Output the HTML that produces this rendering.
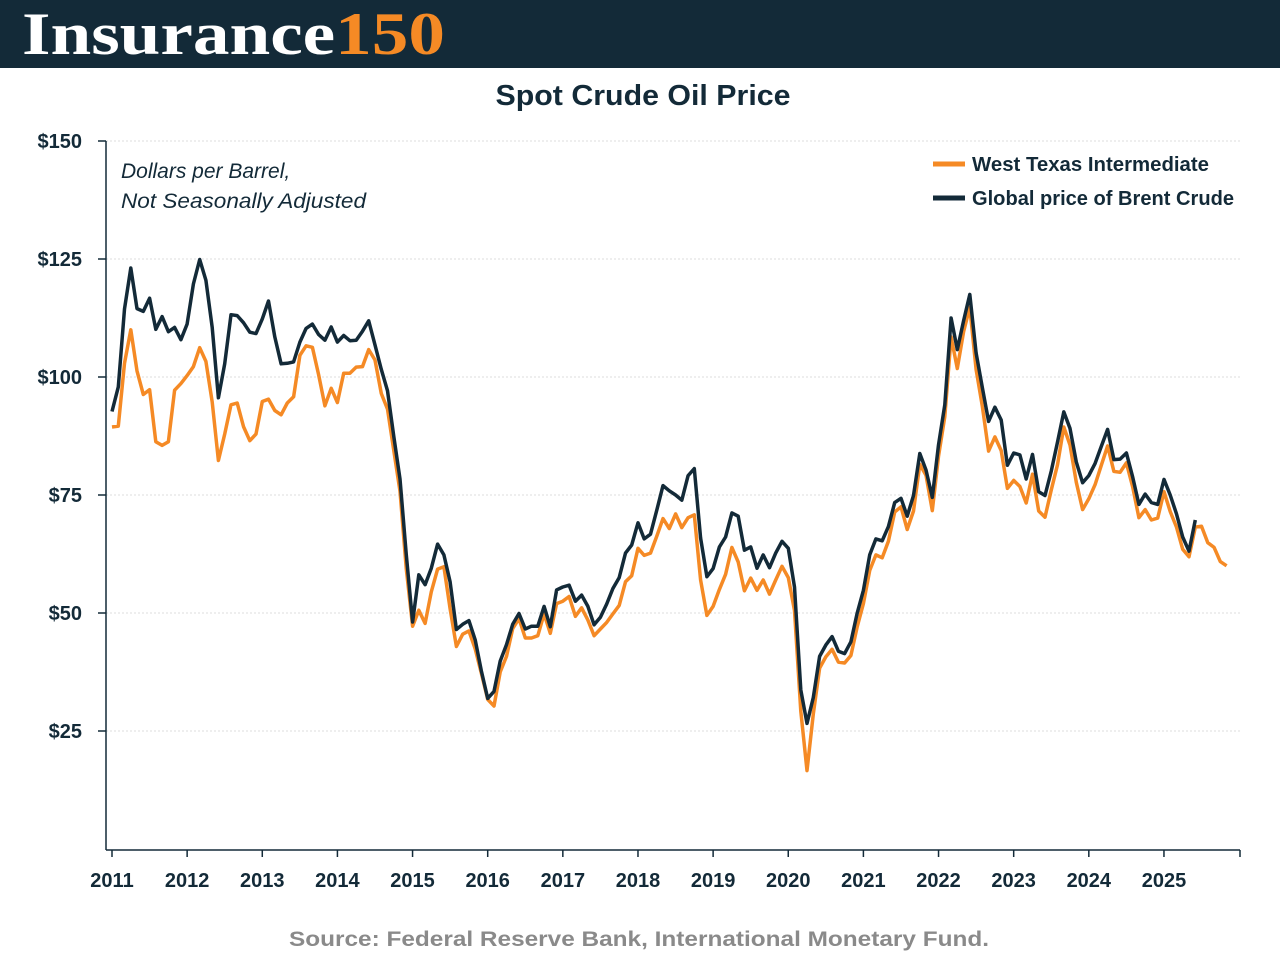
<!DOCTYPE html>
<html><head><meta charset="utf-8"><style>
body{margin:0;width:1280px;height:960px;background:#fff;overflow:hidden;font-family:"Liberation Sans",sans-serif}
</style></head><body>
<div style="position:absolute;left:0;top:0;width:1280px;height:68px;background:#132a38"></div>
<div style="position:absolute;left:22px;top:0px;font-family:'Liberation Serif',serif;font-weight:bold;font-size:60px;line-height:68px;color:#fff;letter-spacing:0px;transform:scaleX(1.22);transform-origin:0 0">Insurance<span style="color:#f58a25">150</span></div>
<svg id="chart" width="1280" height="960" style="position:absolute;left:0;top:0" xmlns="http://www.w3.org/2000/svg">
<text x="643" y="105" text-anchor="middle" font-size="29" font-weight="bold" fill="#132a38" textLength="295" lengthAdjust="spacingAndGlyphs">Spot Crude Oil Price</text>
<text x="121" y="178" font-size="21" font-style="italic" fill="#132a38">Dollars per Barrel,</text>
<text x="121" y="208" font-size="21" font-style="italic" fill="#132a38" textLength="245" lengthAdjust="spacingAndGlyphs">Not Seasonally Adjusted</text>
<g id="grid"></g><g id="axes"></g><g id="series"></g>
<g>
<line x1="933" y1="164" x2="965" y2="164" stroke="#f58a25" stroke-width="5"/>
<text x="972" y="171" font-size="20" font-weight="bold" fill="#132a38" textLength="237" lengthAdjust="spacingAndGlyphs">West Texas Intermediate</text>
<line x1="933" y1="198" x2="965" y2="198" stroke="#132a38" stroke-width="5"/>
<text x="972" y="205" font-size="20" font-weight="bold" fill="#132a38" textLength="262" lengthAdjust="spacingAndGlyphs">Global price of Brent Crude</text>
</g>
<text x="639" y="946" text-anchor="middle" font-size="21" font-weight="bold" fill="#8a8a8a" textLength="700" lengthAdjust="spacingAndGlyphs">Source: Federal Reserve Bank, International Monetary Fund.</text>
</svg>
<script>
const yTicks=[25,50,75,100,125,150];
const yTickLabels=["$25","$50","$75","$100","$125","$150"];
const years=[2011,2012,2013,2014,2015,2016,2017,2018,2019,2020,2021,2022,2023,2024,2025];
const wti=[89.4,89.6,102.9,110.0,101.3,96.3,97.3,86.3,85.5,86.3,97.2,98.6,
100.3,102.2,106.2,103.3,94.7,82.3,87.9,94.1,94.5,89.5,86.5,87.9,
94.8,95.3,92.9,92.0,94.5,95.8,104.6,106.6,106.3,100.5,93.9,97.6,
94.6,100.8,100.8,102.1,102.2,105.8,103.6,96.5,93.2,84.4,75.8,59.3,
47.2,50.6,47.8,54.5,59.3,59.8,50.9,42.9,45.5,46.2,42.4,37.2,
31.7,30.3,37.5,40.8,46.7,48.8,44.7,44.7,45.2,49.8,45.7,52.0,
52.5,53.5,49.3,51.1,48.5,45.2,46.6,48.0,49.8,51.6,56.6,57.9,
63.7,62.2,62.7,66.3,70.0,67.9,71.0,68.1,70.2,70.8,57.0,49.5,
51.4,55.0,58.2,63.9,60.8,54.7,57.4,54.8,57.0,54.0,57.0,59.9,
57.5,50.5,29.2,16.6,28.6,38.3,40.7,42.3,39.6,39.4,41.0,47.0,
52.0,59.0,62.3,61.7,65.2,71.4,72.5,67.7,71.6,81.5,79.2,71.7,
83.2,91.6,108.5,101.8,109.6,114.8,101.6,93.7,84.3,87.3,84.4,76.4,
78.1,76.8,73.3,79.4,71.6,70.3,76.1,81.4,89.4,85.6,77.7,71.9,
74.2,77.2,81.3,85.4,80.0,79.8,81.8,76.7,70.2,71.9,69.7,70.1,
75.7,71.5,68.2,63.5,61.9,68.2,68.4,64.9,63.9,60.9,60.0];
const brent=[92.7,97.9,114.4,123.1,114.5,113.9,116.7,110.1,112.8,109.6,110.5,107.9,
111.2,119.7,124.9,120.5,110.5,95.6,102.8,113.2,113.0,111.5,109.5,109.2,
112.3,116.1,108.5,102.8,102.9,103.2,107.4,110.3,111.2,109.0,107.8,110.6,
107.4,108.8,107.7,107.8,109.7,111.9,106.8,101.6,97.1,87.4,78.4,62.3,
48.1,58.1,56.0,59.5,64.6,62.3,56.6,46.5,47.6,48.4,44.3,37.7,
31.9,33.4,39.8,43.3,47.6,49.9,46.6,47.2,47.2,51.4,47.1,54.9,
55.5,55.9,52.5,53.8,51.4,47.5,49.1,51.9,55.2,57.5,62.7,64.4,
69.1,65.7,66.7,71.8,77.0,75.9,75.0,73.9,79.1,80.6,65.9,57.7,
59.4,64.0,66.1,71.2,70.5,63.3,64.0,59.5,62.3,59.6,62.7,65.2,
63.7,55.5,33.7,26.6,32.1,40.8,43.2,45.0,41.9,41.4,43.9,49.9,
54.8,62.3,65.7,65.3,68.3,73.4,74.3,70.5,74.9,83.8,80.3,74.5,
85.6,94.1,112.5,105.8,111.9,117.5,105.1,97.7,90.6,93.6,90.9,81.3,
83.9,83.5,78.4,83.6,75.7,74.9,80.1,86.2,92.6,89.1,82.0,77.6,
79.1,81.7,85.3,88.9,82.5,82.6,83.9,78.8,73.0,75.2,73.4,73.0,
78.3,75.0,71.0,66.1,63.1,69.7];
const NS="http://www.w3.org/2000/svg";
const x=i=>112+i*75.14/12;
const y=v=>849-v*4.72;
function mk(t,a,p){const e=document.createElementNS(NS,t);for(const k in a)e.setAttribute(k,a[k]);p.appendChild(e);return e;}
const grid=document.getElementById('grid'),axes=document.getElementById('axes'),series=document.getElementById('series');
yTicks.forEach((v,i)=>{
 const g=mk('line',{x1:106,x2:1240,y1:y(v),y2:y(v),stroke:'#ddd','stroke-width':1,'stroke-dasharray':'2,2'},grid);
 
 
 mk('line',{x1:98,x2:106,y1:y(v),y2:y(v),stroke:'#132a38','stroke-width':1.5},axes);
 const t=mk('text',{x:82,y:y(v)+7,'text-anchor':'end','font-size':20,'font-weight':'bold',fill:'#132a38'},axes);
 t.textContent=yTickLabels[i];
 
 
});
const ya=mk('line',{x1:106,x2:106,y1:141,y2:850,stroke:'#132a38','stroke-width':1.5},axes);


const xa=mk('line',{x1:106,x2:1240,y1:850,y2:850,stroke:'#132a38','stroke-width':1.5},axes);


mk('line',{x1:1240,x2:1240,y1:850,y2:857,stroke:'#132a38','stroke-width':1.5},axes);
years.forEach((yr,i)=>{
 const xx=112+i*75.14;
 mk('line',{x1:xx,x2:xx,y1:850,y2:857,stroke:'#132a38','stroke-width':1.5},axes);
 const t=mk('text',{x:xx,y:887,'text-anchor':'middle','font-size':20,'font-weight':'bold',fill:'#132a38'},axes);
 t.textContent=yr;
 
 
});
function line(d,c,n){
 const p=mk('polyline',{points:d.map((v,i)=>x(i).toFixed(1)+','+y(v).toFixed(1)).join(' '),fill:'none',stroke:c,'stroke-width':3.5,'stroke-linejoin':'round'},series);
 
 
}
line(wti,'#f58a25','wti-line');
line(brent,'#132a38','brent-line');
</script>
</body></html>
